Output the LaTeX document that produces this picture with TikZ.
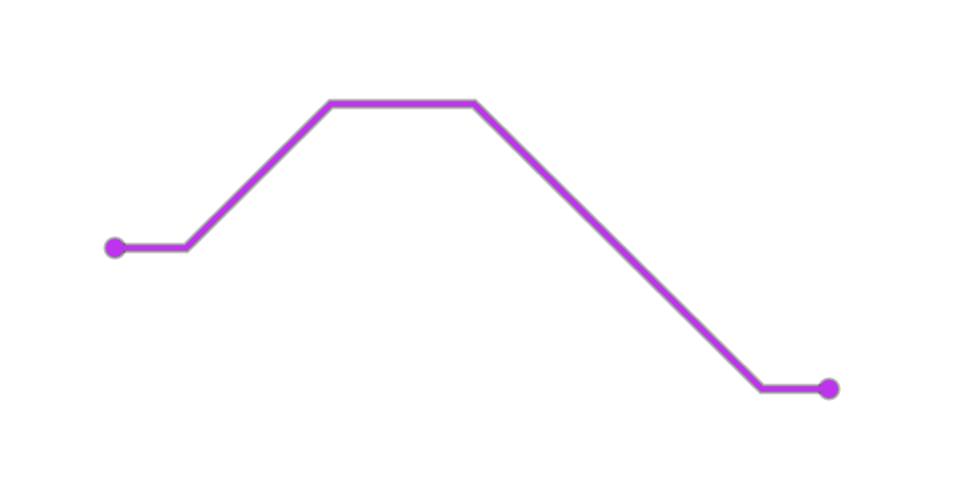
\documentclass[tikz,border=0pt]{standalone}
\usepackage{tikz}
\usetikzlibrary{positioning, calc}
\definecolor{trace}{HTML}{BE34EE}

\tikzset{
  glow/.style={line width=#1, draw=black, opacity=0.12},
  pad/.style={circle, fill=trace, inner sep=0pt, minimum size=0.36cm},
  padglow/.style={circle, fill=black, opacity=0.12, inner sep=0pt, minimum size=#1}
}

\begin{document}
\begin{tikzpicture}
  \useasboundingbox (0,0) rectangle (19.2,9.6);
  % route points
  \coordinate (p0) at (2.30,4.64);
  \coordinate (p1) at (3.72,4.64);
  \coordinate (p2) at (6.62,7.52);
  \coordinate (p3) at (9.48,7.52);
  \coordinate (p4) at (15.24,1.82);
  \coordinate (p5) at (16.58,1.82);
  % soft shadow
  \begin{scope}[yshift=-0.3pt]
  \foreach \w in {6.4pt,5.6pt,4.8pt,4.2pt} {
    \draw[glow=\w] (p0) -- (p1) -- (p2) -- (p3) -- (p4) -- (p5);
    \node[padglow=0.36cm+\w-3pt] at (p0) {};
    \node[padglow=0.36cm+\w-3pt] at (p5) {};
  }
  \end{scope}
  % trace
  \draw[trace, line width=3pt] (p0) -- (p1) -- (p2) -- (p3) -- (p4) -- (p5);
  \node[pad] (start) at (p0) {};
  \node[pad] (stop) at (p5) {};
\end{tikzpicture}
\end{document}
